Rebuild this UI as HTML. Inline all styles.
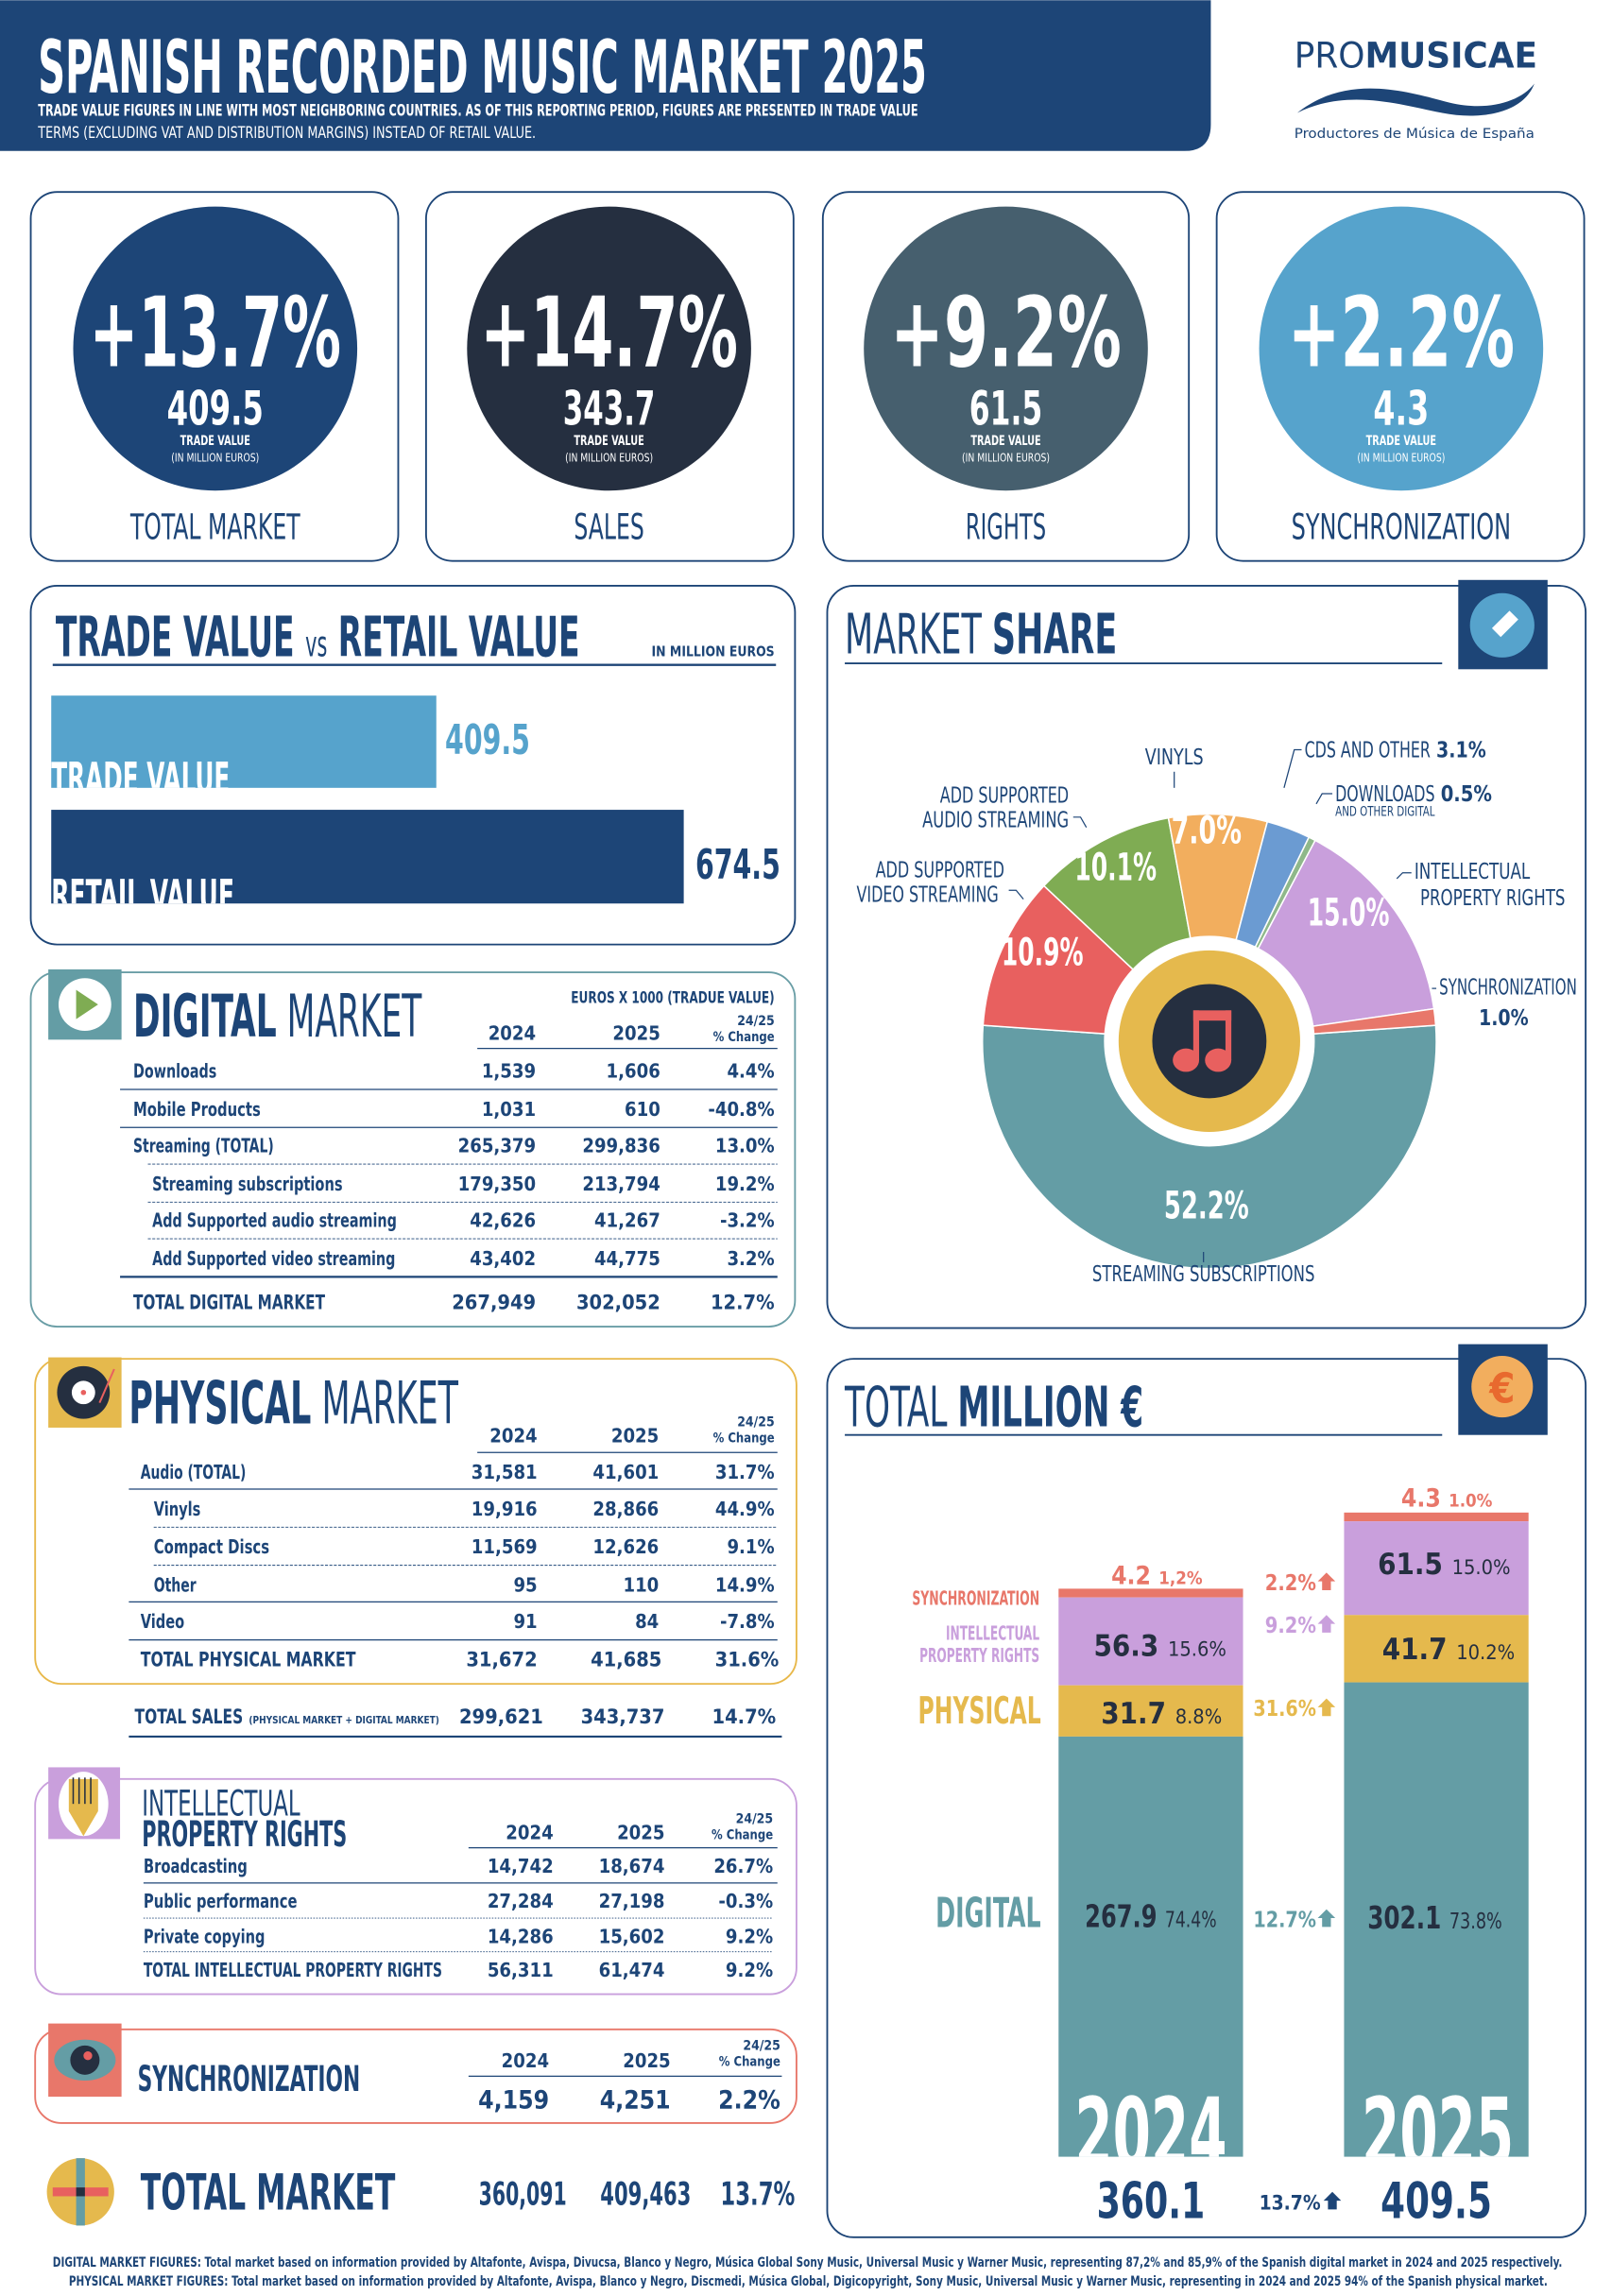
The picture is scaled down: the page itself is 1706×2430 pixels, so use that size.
<!DOCTYPE html>
<html><head><meta charset="utf-8"><style>
html,body{margin:0;padding:0;background:#fff;}
svg{display:block;}
.n{font-family:"Liberation Sans Narrow","DejaVu Sans Condensed","Liberation Sans",sans-serif;}
.b{font-weight:bold;}
</style></head><body>
<svg width="1706" height="2430" viewBox="0 0 1101 1568" xmlns="http://www.w3.org/2000/svg">
<rect x="0" y="0" width="1101" height="1568" fill="#fff"/>
<!-- Header -->
<path d="M0 0 H827 V85 Q827 103 809 103 H0 Z" fill="#1d4577"/>
<text class="n b" x="26" y="63" font-size="50" fill="#fff" textLength="607" lengthAdjust="spacingAndGlyphs">SPANISH RECORDED MUSIC MARKET 2025</text>
<text class="n b" x="26" y="79" font-size="11" fill="#fff" textLength="601" lengthAdjust="spacingAndGlyphs">TRADE VALUE FIGURES IN LINE WITH MOST NEIGHBORING COUNTRIES. AS OF THIS REPORTING PERIOD, FIGURES ARE PRESENTED IN TRADE VALUE</text>
<text class="n" x="26" y="94" font-size="11" fill="#fff" textLength="340" lengthAdjust="spacingAndGlyphs">TERMS (EXCLUDING VAT AND DISTRIBUTION MARGINS) INSTEAD OF RETAIL VALUE.</text>
<text class="n" x="884" y="46" font-size="24" fill="#1d4577" textLength="166" lengthAdjust="spacingAndGlyphs">PRO<tspan font-weight="bold">MUSICAE</tspan></text>
<path d="M886 77 C920 50 960 62 990 70 C1015 76 1038 70 1048 57 C1040 78 1010 82 985 77 C955 71 920 60 886 77 Z" fill="#1d4577"/>
<text class="n" x="884" y="94" font-size="9" fill="#1d4577" textLength="164" lengthAdjust="spacingAndGlyphs">Productores de Música de España</text>

<!-- KPI cards -->
<g fill="none" stroke="#1d4577" stroke-width="1.2">
<rect x="21" y="131" width="251" height="252" rx="18"/>
<rect x="291" y="131" width="251" height="252" rx="18"/>
<rect x="562" y="131" width="250" height="252" rx="18"/>
<rect x="831" y="131" width="251" height="252" rx="18"/>
</g>
<circle cx="147" cy="238" r="97" fill="#1d4577"/>
<circle cx="416" cy="238" r="97" fill="#252f40"/>
<circle cx="687" cy="238" r="97" fill="#465f6e"/>
<circle cx="957" cy="238" r="97" fill="#56a3cc"/>
<g class="n b" fill="#fff" text-anchor="middle">
<text x="147" y="250" font-size="66" textLength="172" lengthAdjust="spacingAndGlyphs">+13.7%</text>
<text x="416" y="250" font-size="66" textLength="176" lengthAdjust="spacingAndGlyphs">+14.7%</text>
<text x="687" y="250" font-size="66" textLength="158" lengthAdjust="spacingAndGlyphs">+9.2%</text>
<text x="957" y="250" font-size="66" textLength="155" lengthAdjust="spacingAndGlyphs">+2.2%</text>
<text x="147" y="290" font-size="32" textLength="66" lengthAdjust="spacingAndGlyphs">409.5</text>
<text x="416" y="290" font-size="32" textLength="63" lengthAdjust="spacingAndGlyphs">343.7</text>
<text x="687" y="290" font-size="32" textLength="50" lengthAdjust="spacingAndGlyphs">61.5</text>
<text x="957" y="290" font-size="32" textLength="38" lengthAdjust="spacingAndGlyphs">4.3</text>
<g font-size="9"><text x="147" y="304" textLength="48" lengthAdjust="spacingAndGlyphs">TRADE VALUE</text><text x="416" y="304" textLength="48" lengthAdjust="spacingAndGlyphs">TRADE VALUE</text><text x="687" y="304" textLength="48" lengthAdjust="spacingAndGlyphs">TRADE VALUE</text><text x="957" y="304" textLength="48" lengthAdjust="spacingAndGlyphs">TRADE VALUE</text></g>
<g font-size="8" font-weight="normal"><text x="147" y="315" textLength="60" lengthAdjust="spacingAndGlyphs">(IN MILLION EUROS)</text><text x="416" y="315" textLength="60" lengthAdjust="spacingAndGlyphs">(IN MILLION EUROS)</text><text x="687" y="315" textLength="60" lengthAdjust="spacingAndGlyphs">(IN MILLION EUROS)</text><text x="957" y="315" textLength="60" lengthAdjust="spacingAndGlyphs">(IN MILLION EUROS)</text></g>
</g>
<g class="n" fill="#1d4577" text-anchor="middle" font-size="24">
<text x="147" y="368" textLength="116" lengthAdjust="spacingAndGlyphs">TOTAL MARKET</text>
<text x="416" y="368" textLength="48" lengthAdjust="spacingAndGlyphs">SALES</text>
<text x="687" y="368" textLength="55" lengthAdjust="spacingAndGlyphs">RIGHTS</text>
<text x="957" y="368" textLength="150" lengthAdjust="spacingAndGlyphs">SYNCHRONIZATION</text>
</g>

<!-- Trade vs retail -->
<rect x="21" y="400" width="522" height="245" rx="18" fill="none" stroke="#1d4577" stroke-width="1.2"/>
<text class="n b" x="38" y="448" font-size="38" fill="#1d4577" textLength="358" lengthAdjust="spacingAndGlyphs">TRADE VALUE <tspan font-size="24" font-weight="normal">vs</tspan> RETAIL VALUE</text>
<text class="n b" x="445" y="448" font-size="10" fill="#1d4577" textLength="84" lengthAdjust="spacingAndGlyphs">IN MILLION EUROS</text>
<line x1="36" y1="454" x2="530" y2="454" stroke="#1d4577" stroke-width="1.5"/>
<rect x="35" y="475" width="263" height="63" fill="#56a3cc"/>
<rect x="35" y="553" width="432" height="64" fill="#1d4577"/>
<clipPath id="c1"><rect x="35" y="475" width="263" height="63"/></clipPath>
<clipPath id="c2"><rect x="35" y="553" width="432" height="64"/></clipPath>
<text class="n b" x="35" y="542" font-size="30" fill="#fff" clip-path="url(#c1)" textLength="122" lengthAdjust="spacingAndGlyphs">TRADE VALUE</text>
<text class="n b" x="35" y="622" font-size="30" fill="#fff" clip-path="url(#c2)" textLength="125" lengthAdjust="spacingAndGlyphs">RETAIL VALUE</text>
<text class="n b" x="304" y="515" font-size="28" fill="#56a3cc" textLength="58" lengthAdjust="spacingAndGlyphs">409.5</text>
<text class="n b" x="475" y="600" font-size="28" fill="#1d4577" textLength="58" lengthAdjust="spacingAndGlyphs">674.5</text>

<!-- Market share -->
<rect x="565" y="400" width="518" height="507" rx="18" fill="none" stroke="#1d4577" stroke-width="1.2"/>
<rect x="996" y="396" width="61" height="61" fill="#1d4577"/>
<circle cx="1026" cy="427" r="22" fill="#56a3cc"/>
<path d="M1019 429 L1031 417 L1037 423 L1025 435 Z" fill="#fff"/>
<text class="n" x="577" y="446" font-size="38" fill="#1d4577" textLength="186" lengthAdjust="spacingAndGlyphs">MARKET <tspan font-weight="bold">SHARE</tspan></text>
<line x1="577" y1="453" x2="985" y2="453" stroke="#1d4577" stroke-width="1.2"/>
<g stroke="#fff" stroke-width="1">
<path d="M826 711 L980.6 700.2 A155 155 0 1 1 671.4 700.2 Z" fill="#649da5"/>
<path d="M826 711 L671.4 700.2 A155 155 0 0 1 713 604.9 Z" fill="#e8605f"/>
<path d="M826 711 L713 604.9 A155 155 0 0 1 798 558.5 Z" fill="#7fac53"/>
<path d="M826 711 L798 558.5 A155 155 0 0 1 865.6 561.1 Z" fill="#f2ae5e"/>
<path d="M826 711 L865.6 561.1 A155 155 0 0 1 894 571.7 Z" fill="#6b9bd2"/>
<path d="M826 711 L894 571.7 A155 155 0 0 1 898.3 573.9 Z" fill="#8fb88a"/>
<path d="M826 711 L898.3 573.9 A155 155 0 0 1 979.4 688.9 Z" fill="#c99fdc"/>
<path d="M826 711 L979.4 688.9 A155 155 0 0 1 980.6 700.2 Z" fill="#e8776a"/>
</g>
<circle cx="826" cy="711" r="72" fill="#fff"/>
<circle cx="826" cy="711" r="62" fill="#e5b94d"/>
<circle cx="826" cy="711" r="39" fill="#252f40"/>
<g fill="#e8605f"><ellipse cx="810" cy="724" rx="9" ry="8"/><ellipse cx="832" cy="724" rx="9" ry="8"/><rect x="815" y="690" width="4" height="34"/><rect x="837" y="690" width="4" height="34"/><rect x="815" y="690" width="26" height="7"/></g>
<g class="n b" fill="#fff" text-anchor="middle">
<text x="712" y="659" font-size="26" textLength="56" lengthAdjust="spacingAndGlyphs">10.9%</text>
<text x="762" y="601" font-size="26" textLength="56" lengthAdjust="spacingAndGlyphs">10.1%</text>
<text x="824" y="576" font-size="26" textLength="48" lengthAdjust="spacingAndGlyphs">7.0%</text>
<text x="921" y="632" font-size="26" textLength="56" lengthAdjust="spacingAndGlyphs">15.0%</text>
<text x="824" y="832" font-size="26" textLength="58" lengthAdjust="spacingAndGlyphs">52.2%</text>
</g>
<g class="n" fill="#1d4577" font-size="15">
<text x="802" y="522" text-anchor="middle" textLength="40" lengthAdjust="spacingAndGlyphs">VINYLS</text>
<text x="730" y="548" text-anchor="end" textLength="88" lengthAdjust="spacingAndGlyphs">ADD SUPPORTED</text>
<text x="730" y="565" text-anchor="end" textLength="100" lengthAdjust="spacingAndGlyphs">AUDIO STREAMING</text>
<text x="686" y="599" text-anchor="end" textLength="88" lengthAdjust="spacingAndGlyphs">ADD SUPPORTED</text>
<text x="682" y="616" text-anchor="end" textLength="97" lengthAdjust="spacingAndGlyphs">VIDEO STREAMING</text>
<text x="891" y="517" textLength="86" lengthAdjust="spacingAndGlyphs">CDS AND OTHER</text>
<text class="b" x="981" y="517" textLength="34" lengthAdjust="spacingAndGlyphs">3.1%</text>
<text x="912" y="547" textLength="68" lengthAdjust="spacingAndGlyphs">DOWNLOADS</text>
<text class="b" x="984" y="547" textLength="35" lengthAdjust="spacingAndGlyphs">0.5%</text>
<text x="912" y="557" font-size="9" textLength="68" lengthAdjust="spacingAndGlyphs">AND OTHER DIGITAL</text>
<text x="966" y="600" textLength="79" lengthAdjust="spacingAndGlyphs">INTELLECTUAL</text>
<text x="970" y="618" textLength="99" lengthAdjust="spacingAndGlyphs">PROPERTY RIGHTS</text>
<text x="983" y="679" textLength="94" lengthAdjust="spacingAndGlyphs">SYNCHRONIZATION</text>
<text class="b" x="1010" y="700" textLength="34" lengthAdjust="spacingAndGlyphs">1.0%</text>
<text x="822" y="875" text-anchor="middle" textLength="152" lengthAdjust="spacingAndGlyphs">STREAMING SUBSCRIPTIONS</text>
</g>
<g stroke="#1d4577" stroke-width="0.8" fill="none">
<line x1="802" y1="527" x2="802" y2="538"/>
<path d="M733 558 L738 558 L742 565"/>
<path d="M689 608 L694 608 L699 614"/>
<path d="M889 512 L884 512 L877 538"/>
<path d="M910 542 L903 542 L899 549"/>
<path d="M964 596 L958 596 L954 600"/>
<path d="M981 675 L978 675"/>
<line x1="822" y1="855" x2="822" y2="862"/>
</g>

<!-- Digital market -->
<rect x="21" y="664" width="522" height="242" rx="18" fill="none" stroke="#6a9ea6" stroke-width="1.2"/>
<rect x="33" y="662" width="50" height="48" fill="#649da5"/>
<circle cx="58" cy="686" r="18" fill="#fff"/>
<path d="M52 676 L52 696 L67 686 Z" fill="#7fac53"/>
<text class="n" x="91" y="708" font-size="40" fill="#1d4577" textLength="197" lengthAdjust="spacingAndGlyphs"><tspan font-weight="bold">DIGITAL</tspan> MARKET</text>
<text class="n b" x="529" y="685" font-size="11" fill="#1d4577" text-anchor="end" textLength="139" lengthAdjust="spacingAndGlyphs">EUROS X 1000 (TRADUE VALUE)</text>
<g class="n b" fill="#1d4577" font-size="13">
<text x="366" y="710" text-anchor="end">2024</text><text x="451" y="710" text-anchor="end">2025</text>
<text x="529" y="700" font-size="9" text-anchor="end">24/25</text><text x="529" y="711" font-size="9" text-anchor="end" textLength="42" lengthAdjust="spacingAndGlyphs">% Change</text>
</g>
<g stroke="#1d4577" fill="none">
<line x1="326" y1="716" x2="531" y2="716" stroke-width="0.8"/>
<line x1="82" y1="744" x2="531" y2="744" stroke-width="0.8"/>
<line x1="82" y1="770" x2="531" y2="770" stroke-width="0.8"/>
<line x1="101" y1="795" x2="531" y2="795" stroke-width="0.6" stroke-dasharray="2 1"/>
<line x1="101" y1="821" x2="531" y2="821" stroke-width="0.6" stroke-dasharray="2 1"/>
<line x1="101" y1="846" x2="531" y2="846" stroke-width="0.6" stroke-dasharray="2 1"/>
<line x1="82" y1="872" x2="531" y2="872" stroke-width="1.4"/>
</g>
<g class="n b" fill="#1d4577" font-size="13">
<text x="91" y="736" textLength="57" lengthAdjust="spacingAndGlyphs">Downloads</text><text x="366" y="736" text-anchor="end">1,539</text><text x="451" y="736" text-anchor="end">1,606</text><text x="529" y="736" text-anchor="end">4.4%</text>
<text x="91" y="762" textLength="87" lengthAdjust="spacingAndGlyphs">Mobile Products</text><text x="366" y="762" text-anchor="end">1,031</text><text x="451" y="762" text-anchor="end">610</text><text x="529" y="762" text-anchor="end">-40.8%</text>
<text x="91" y="787" textLength="96" lengthAdjust="spacingAndGlyphs">Streaming (TOTAL)</text><text x="366" y="787" text-anchor="end">265,379</text><text x="451" y="787" text-anchor="end">299,836</text><text x="529" y="787" text-anchor="end">13.0%</text>
<text x="104" y="813" textLength="130" lengthAdjust="spacingAndGlyphs">Streaming subscriptions</text><text x="366" y="813" text-anchor="end">179,350</text><text x="451" y="813" text-anchor="end">213,794</text><text x="529" y="813" text-anchor="end">19.2%</text>
<text x="104" y="838" textLength="167" lengthAdjust="spacingAndGlyphs">Add Supported audio streaming</text><text x="366" y="838" text-anchor="end">42,626</text><text x="451" y="838" text-anchor="end">41,267</text><text x="529" y="838" text-anchor="end">-3.2%</text>
<text x="104" y="864" textLength="166" lengthAdjust="spacingAndGlyphs">Add Supported video streaming</text><text x="366" y="864" text-anchor="end">43,402</text><text x="451" y="864" text-anchor="end">44,775</text><text x="529" y="864" text-anchor="end">3.2%</text>
<text x="91" y="894" font-size="14" textLength="131" lengthAdjust="spacingAndGlyphs">TOTAL DIGITAL MARKET</text><text x="366" y="894" font-size="14" text-anchor="end">267,949</text><text x="451" y="894" font-size="14" text-anchor="end">302,052</text><text x="529" y="894" font-size="14" text-anchor="end">12.7%</text>
</g>

<!-- Physical market -->
<rect x="24" y="928" width="520" height="222" rx="18" fill="none" stroke="#e8b84a" stroke-width="1.2"/>
<rect x="33" y="927" width="50" height="48" fill="#e5b94d"/>
<circle cx="57" cy="951" r="18" fill="#252f40"/>
<circle cx="57" cy="951" r="8" fill="#fff"/>
<circle cx="57" cy="951" r="1.8" fill="#e8605f"/>
<line x1="68" y1="958" x2="78" y2="935" stroke="#e8605f" stroke-width="1.3"/>
<text class="n" x="88" y="972" font-size="40" fill="#1d4577" textLength="225" lengthAdjust="spacingAndGlyphs"><tspan font-weight="bold">PHYSICAL</tspan> MARKET</text>
<g class="n b" fill="#1d4577" font-size="13">
<text x="367" y="985" text-anchor="end">2024</text><text x="450" y="985" text-anchor="end">2025</text>
<text x="529" y="974" font-size="9" text-anchor="end">24/25</text><text x="529" y="985" font-size="9" text-anchor="end" textLength="42" lengthAdjust="spacingAndGlyphs">% Change</text>
</g>
<g stroke="#1d4577" fill="none">
<line x1="326" y1="992" x2="531" y2="992" stroke-width="0.8"/>
<line x1="88" y1="1017" x2="531" y2="1017" stroke-width="0.8"/>
<line x1="105" y1="1043" x2="531" y2="1043" stroke-width="0.6" stroke-dasharray="2 1"/>
<line x1="105" y1="1069" x2="531" y2="1069" stroke-width="0.6" stroke-dasharray="2 1"/>
<line x1="88" y1="1094" x2="531" y2="1094" stroke-width="0.8"/>
<line x1="88" y1="1120" x2="531" y2="1120" stroke-width="0.8"/>
<line x1="88" y1="1186" x2="534" y2="1186" stroke-width="1.4"/>
</g>
<g class="n b" fill="#1d4577" font-size="13">
<text x="96" y="1010" textLength="72" lengthAdjust="spacingAndGlyphs">Audio (TOTAL)</text><text x="367" y="1010" text-anchor="end">31,581</text><text x="450" y="1010" text-anchor="end">41,601</text><text x="529" y="1010" text-anchor="end">31.7%</text>
<text x="105" y="1035" textLength="32" lengthAdjust="spacingAndGlyphs">Vinyls</text><text x="367" y="1035" text-anchor="end">19,916</text><text x="450" y="1035" text-anchor="end">28,866</text><text x="529" y="1035" text-anchor="end">44.9%</text>
<text x="105" y="1061" textLength="79" lengthAdjust="spacingAndGlyphs">Compact Discs</text><text x="367" y="1061" text-anchor="end">11,569</text><text x="450" y="1061" text-anchor="end">12,626</text><text x="529" y="1061" text-anchor="end">9.1%</text>
<text x="105" y="1087" textLength="29" lengthAdjust="spacingAndGlyphs">Other</text><text x="367" y="1087" text-anchor="end">95</text><text x="450" y="1087" text-anchor="end">110</text><text x="529" y="1087" text-anchor="end">14.9%</text>
<text x="96" y="1112" textLength="30" lengthAdjust="spacingAndGlyphs">Video</text><text x="367" y="1112" text-anchor="end">91</text><text x="450" y="1112" text-anchor="end">84</text><text x="529" y="1112" text-anchor="end">-7.8%</text>
<text x="96" y="1138" font-size="14" textLength="147" lengthAdjust="spacingAndGlyphs">TOTAL PHYSICAL MARKET</text><text x="367" y="1138" font-size="14" text-anchor="end">31,672</text><text x="452" y="1138" font-size="14" text-anchor="end">41,685</text><text x="532" y="1138" font-size="14" text-anchor="end">31.6%</text>
<text x="92" y="1177" font-size="14" textLength="74" lengthAdjust="spacingAndGlyphs">TOTAL SALES</text>
<text x="170" y="1177" font-size="7" textLength="130" lengthAdjust="spacingAndGlyphs">(PHYSICAL MARKET + DIGITAL MARKET)</text>
<text x="371" y="1177" font-size="14" text-anchor="end">299,621</text><text x="454" y="1177" font-size="14" text-anchor="end">343,737</text><text x="530" y="1177" font-size="14" text-anchor="end">14.7%</text>
</g>

<!-- IPR -->
<rect x="24" y="1215" width="520" height="147" rx="18" fill="none" stroke="#c99fdc" stroke-width="1.2"/>
<rect x="33" y="1207" width="49" height="49" fill="#c99fdc"/>
<ellipse cx="57" cy="1232" rx="17" ry="22" fill="#fff"/>
<path d="M47 1215 H67 V1237 L57 1254 L47 1237 Z" fill="#e5b94d"/>
<g stroke="#252f40" stroke-width="1"><line x1="50" y1="1214" x2="50" y2="1232"/><line x1="54" y1="1214" x2="54" y2="1232"/><line x1="58" y1="1214" x2="58" y2="1232"/><line x1="62" y1="1214" x2="62" y2="1232"/></g>
<text class="n" x="97" y="1240" font-size="24" fill="#1d4577" textLength="108" lengthAdjust="spacingAndGlyphs">INTELLECTUAL</text>
<text class="n b" x="97" y="1261" font-size="24" fill="#1d4577" textLength="140" lengthAdjust="spacingAndGlyphs">PROPERTY RIGHTS</text>
<g class="n b" fill="#1d4577" font-size="13">
<text x="378" y="1256" text-anchor="end">2024</text><text x="454" y="1256" text-anchor="end">2025</text>
<text x="528" y="1245" font-size="9" text-anchor="end">24/25</text><text x="528" y="1256" font-size="9" text-anchor="end" textLength="42" lengthAdjust="spacingAndGlyphs">% Change</text>
</g>
<g stroke="#1d4577" fill="none">
<line x1="320" y1="1262" x2="531" y2="1262" stroke-width="0.8"/>
<line x1="98" y1="1286" x2="531" y2="1286" stroke-width="0.8"/>
<line x1="98" y1="1310" x2="528" y2="1310" stroke-width="0.6" stroke-dasharray="1 1"/>
<line x1="98" y1="1333" x2="528" y2="1333" stroke-width="0.6" stroke-dasharray="1 1"/>
</g>
<g class="n b" fill="#1d4577" font-size="13">
<text x="98" y="1279" textLength="71" lengthAdjust="spacingAndGlyphs">Broadcasting</text><text x="378" y="1279" text-anchor="end">14,742</text><text x="454" y="1279" text-anchor="end">18,674</text><text x="528" y="1279" text-anchor="end">26.7%</text>
<text x="98" y="1303" textLength="105" lengthAdjust="spacingAndGlyphs">Public performance</text><text x="378" y="1303" text-anchor="end">27,284</text><text x="454" y="1303" text-anchor="end">27,198</text><text x="528" y="1303" text-anchor="end">-0.3%</text>
<text x="98" y="1327" textLength="83" lengthAdjust="spacingAndGlyphs">Private copying</text><text x="378" y="1327" text-anchor="end">14,286</text><text x="454" y="1327" text-anchor="end">15,602</text><text x="528" y="1327" text-anchor="end">9.2%</text>
<text x="98" y="1350" textLength="204" lengthAdjust="spacingAndGlyphs">TOTAL INTELLECTUAL PROPERTY RIGHTS</text><text x="378" y="1350" text-anchor="end">56,311</text><text x="454" y="1350" text-anchor="end">61,474</text><text x="528" y="1350" text-anchor="end">9.2%</text>
</g>

<!-- Sync -->
<rect x="24" y="1386" width="520" height="64" rx="18" fill="none" stroke="#e8776a" stroke-width="1.2"/>
<rect x="33" y="1382" width="50" height="50" fill="#e8776a"/>
<ellipse cx="58" cy="1407" rx="21" ry="14" fill="#649da5"/>
<circle cx="58" cy="1407" r="10" fill="#252f40"/>
<circle cx="60" cy="1404" r="3" fill="#e8605f"/>
<text class="n b" x="94" y="1428" font-size="24" fill="#1d4577" textLength="152" lengthAdjust="spacingAndGlyphs">SYNCHRONIZATION</text>
<g class="n b" fill="#1d4577" font-size="13">
<text x="375" y="1412" text-anchor="end">2024</text><text x="458" y="1412" text-anchor="end">2025</text>
<text x="533" y="1400" font-size="9" text-anchor="end">24/25</text><text x="533" y="1411" font-size="9" text-anchor="end" textLength="42" lengthAdjust="spacingAndGlyphs">% Change</text>
<line x1="320" y1="1418" x2="534" y2="1418" stroke="#1d4577" stroke-width="0.8"/>
<text x="375" y="1440" font-size="17" text-anchor="end">4,159</text><text x="458" y="1440" font-size="17" text-anchor="end">4,251</text><text x="533" y="1440" font-size="17" text-anchor="end">2.2%</text>
</g>

<!-- Total market -->
<circle cx="55" cy="1497" r="23" fill="#e5b94d"/>
<rect x="52" y="1474" width="6" height="46" fill="#649da5"/>
<rect x="36" y="1494" width="38" height="6" fill="#e8605f"/>
<rect x="52" y="1494" width="6" height="6" fill="#252f40"/>
<text class="n b" x="96" y="1509" font-size="34" fill="#1d4577" textLength="174" lengthAdjust="spacingAndGlyphs">TOTAL MARKET</text>
<g class="n b" fill="#1d4577" font-size="22">
<text x="327" y="1506" textLength="60" lengthAdjust="spacingAndGlyphs">360,091</text>
<text x="410" y="1506" textLength="62" lengthAdjust="spacingAndGlyphs">409,463</text>
<text x="492" y="1506" textLength="51" lengthAdjust="spacingAndGlyphs">13.7%</text>
</g>

<!-- Total million -->
<rect x="565" y="928" width="518" height="600" rx="18" fill="none" stroke="#1d4577" stroke-width="1.2"/>
<rect x="996" y="918" width="61" height="62" fill="#1d4577"/>
<circle cx="1026" cy="947" r="21" fill="#f2ae5e"/>
<text class="n b" x="1026" y="958" font-size="28" fill="#e8692e" text-anchor="middle">€</text>
<text class="n" x="577" y="974" font-size="38" fill="#1d4577" textLength="204" lengthAdjust="spacingAndGlyphs">TOTAL <tspan font-weight="bold">MILLION €</tspan></text>
<line x1="577" y1="980" x2="985" y2="980" stroke="#1d4577" stroke-width="1.2"/>
<rect x="723" y="1085" width="126" height="6" fill="#e8776a"/>
<rect x="723" y="1091" width="126" height="60" fill="#c99fdc"/>
<rect x="723" y="1151" width="126" height="35" fill="#e5b94d"/>
<rect x="723" y="1186" width="126" height="287" fill="#649da5"/>
<rect x="918" y="1033" width="126" height="6" fill="#e8776a"/>
<rect x="918" y="1039" width="126" height="64" fill="#c99fdc"/>
<rect x="918" y="1103" width="126" height="46" fill="#e5b94d"/>
<rect x="918" y="1149" width="126" height="324" fill="#649da5"/>
<clipPath id="c3"><rect x="700" y="1380" width="400" height="93"/></clipPath>
<g class="n b" fill="#fff" font-size="66" text-anchor="middle" clip-path="url(#c3)">
<text x="786" y="1480" textLength="104" lengthAdjust="spacingAndGlyphs">2024</text>
<text x="982" y="1480" textLength="104" lengthAdjust="spacingAndGlyphs">2025</text>
</g>
<g class="n b" text-anchor="end">
<text x="710" y="1096" font-size="13" fill="#e8776a" textLength="87" lengthAdjust="spacingAndGlyphs">SYNCHRONIZATION</text>
<text x="710" y="1120" font-size="13" fill="#c99fdc" textLength="64" lengthAdjust="spacingAndGlyphs">INTELLECTUAL</text>
<text x="710" y="1135" font-size="13" fill="#c99fdc" textLength="82" lengthAdjust="spacingAndGlyphs">PROPERTY RIGHTS</text>
<text x="711" y="1177" font-size="25" fill="#e5b94d" textLength="84" lengthAdjust="spacingAndGlyphs">PHYSICAL</text>
<text x="711" y="1316" font-size="28" fill="#649da5" textLength="72" lengthAdjust="spacingAndGlyphs">DIGITAL</text>
</g>
<g class="n b">
<text x="759" y="1082" font-size="17" fill="#e8776a">4.2 <tspan font-size="12">1,2%</tspan></text>
<text x="747" y="1131" font-size="20" fill="#252f40">56.3 <tspan font-size="14" font-weight="normal">15.6%</tspan></text>
<text x="752" y="1177" font-size="20" fill="#252f40">31.7 <tspan font-size="14" font-weight="normal">8.8%</tspan></text>
<text x="741" y="1316" font-size="21" fill="#252f40" textLength="90" lengthAdjust="spacingAndGlyphs">267.9 <tspan font-size="15" font-weight="normal">74.4%</tspan></text>
<text x="957" y="1029" font-size="17" fill="#e8776a">4.3 <tspan font-size="12">1.0%</tspan></text>
<text x="941" y="1075" font-size="20" fill="#252f40">61.5 <tspan font-size="14" font-weight="normal">15.0%</tspan></text>
<text x="944" y="1133" font-size="20" fill="#252f40">41.7 <tspan font-size="14" font-weight="normal">10.2%</tspan></text>
<text x="934" y="1317" font-size="21" fill="#252f40" textLength="92" lengthAdjust="spacingAndGlyphs">302.1 <tspan font-size="15" font-weight="normal">73.8%</tspan></text>
</g>
<g class="n b" text-anchor="middle">
<text x="786" y="1515" font-size="34" fill="#1d4577" textLength="74" lengthAdjust="spacingAndGlyphs">360.1</text>
<text x="981" y="1515" font-size="34" fill="#1d4577" textLength="76" lengthAdjust="spacingAndGlyphs">409.5</text>
</g>
<g class="n b" font-size="15" text-anchor="end">
<text x="899" y="1086" fill="#e8776a" textLength="35" lengthAdjust="spacingAndGlyphs">2.2%</text>
<text x="899" y="1115" fill="#c99fdc" textLength="35" lengthAdjust="spacingAndGlyphs">9.2%</text>
<text x="899" y="1172" fill="#e5b94d" textLength="43" lengthAdjust="spacingAndGlyphs">31.6%</text>
<text x="899" y="1316" fill="#649da5" textLength="43" lengthAdjust="spacingAndGlyphs">12.7%</text>
<text x="902" y="1509" fill="#1d4577" font-size="14" textLength="42" lengthAdjust="spacingAndGlyphs">13.7%</text>
</g>
<g>
<path d="M906 1074 L912 1080 L909 1080 L909 1086 L903 1086 L903 1080 L900 1080 Z" fill="#e8776a"/>
<path d="M906 1103 L912 1109 L909 1109 L909 1115 L903 1115 L903 1109 L900 1109 Z" fill="#c99fdc"/>
<path d="M906 1160 L912 1166 L909 1166 L909 1172 L903 1172 L903 1166 L900 1166 Z" fill="#e5b94d"/>
<path d="M906 1304 L912 1310 L909 1310 L909 1316 L903 1316 L903 1310 L900 1310 Z" fill="#649da5"/>
<path d="M910 1497 L916 1503 L913 1503 L913 1509 L907 1509 L907 1503 L904 1503 Z" fill="#1d4577"/>
</g>

<!-- Footer -->
<text class="n b" x="36" y="1548" font-size="9" fill="#1d4577" textLength="1031" lengthAdjust="spacingAndGlyphs">DIGITAL MARKET FIGURES: Total market based on information provided by Altafonte, Avispa, Divucsa, Blanco y Negro, Música Global Sony Music, Universal Music y Warner Music, representing 87,2% and 85,9% of the Spanish digital market in 2024 and 2025 respectively.</text>
<text class="n b" x="47" y="1561" font-size="9" fill="#1d4577" textLength="1010" lengthAdjust="spacingAndGlyphs">PHYSICAL MARKET FIGURES: Total market based on information provided by Altafonte, Avispa, Blanco y Negro, Discmedi, Música Global, Digicopyright, Sony Music, Universal Music y Warner Music, representing in 2024 and 2025 94% of the Spanish physical market.</text>
</svg>
</body></html>
